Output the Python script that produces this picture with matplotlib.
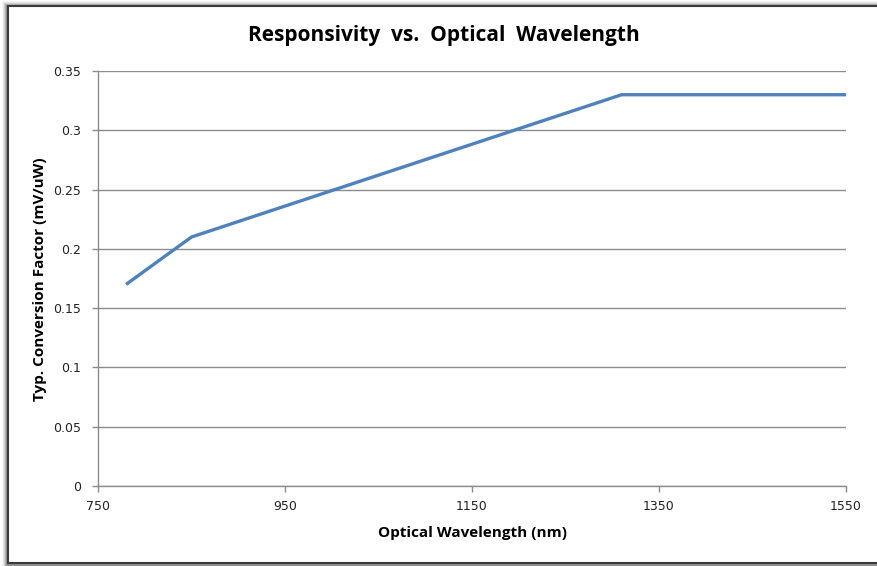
import matplotlib
matplotlib.use("Agg")
import matplotlib.pyplot as plt
from matplotlib.patches import Rectangle

wavelength = [780, 850, 1310, 1550]
responsivity = [0.17, 0.21, 0.33, 0.33]
x_ticks = [750, 950, 1150, 1350, 1550]
y_ticks = [0, 0.05, 0.1, 0.15, 0.2, 0.25, 0.3, 0.35]
y_tick_labels = ["0", "0.05", "0.1", "0.15", "0.2", "0.25", "0.3", "0.35"]

W, H = 877, 566
fig = plt.figure(figsize=(W / 100, H / 100), dpi=100)

# shadow + border
for i, a in enumerate([0.10, 0.18, 0.28, 0.40, 0.55]):
    off = 5 - i
    fig.patches.append(Rectangle(((8 - off - 1) / W, 0), (W) / W, (H - 6 + off) / H,
                                 transform=fig.transFigure, facecolor=(0, 0, 0, a * 0.35),
                                 edgecolor="none", zorder=0))
fig.patches.append(Rectangle((8 / W, 3 / H), (W) / W, (H - 9) / H, transform=fig.transFigure,
                             facecolor="white", edgecolor="#3a3a3a", linewidth=1.5, zorder=1))

ax = fig.add_axes([98 / W, 1 - 486 / H, (846 - 98) / W, (486 - 71) / H])
ax.set_zorder(2)
ax.patch.set_alpha(0)
ax.plot(wavelength, responsivity, color="#4F81BD", linewidth=2.4, solid_capstyle="butt")
ax.set_xlim(750, 1550)
ax.set_ylim(0, 0.35)
ax.set_xticks(x_ticks)
ax.set_yticks(y_ticks)
ax.set_yticklabels(y_tick_labels)
ax.yaxis.grid(True, color="#8c8c8c", linewidth=1.0)
ax.set_axisbelow(True)
for s in ["top", "right"]:
    ax.spines[s].set_visible(False)
for s in ["left", "bottom"]:
    ax.spines[s].set_color("#8c8c8c")
    ax.spines[s].set_linewidth(1.0)
ax.tick_params(axis="both", direction="out", color="#8c8c8c", length=4, width=1,
               labelsize=9, labelcolor="#222222")
ax.tick_params(axis="x", pad=6)
ax.tick_params(axis="y", pad=8)

fig.text(444 / W, 1 - 36 / H, "Responsivity  vs.  Optical  Wavelength", ha="center", va="center",
         fontsize=15, fontweight="bold", family="Open Sans")
fig.text(473 / W, 1 - 533 / H, "Optical Wavelength (nm)", ha="center", va="center",
         fontsize=11, fontweight="bold", family="Open Sans")
fig.text(40 / W, 1 - 279 / H, "Typ. Conversion Factor (mV/uW)", ha="center", va="center",
         rotation=90, fontsize=11, fontweight="bold", family="Open Sans")

fig.savefig("out.png", dpi=100)
